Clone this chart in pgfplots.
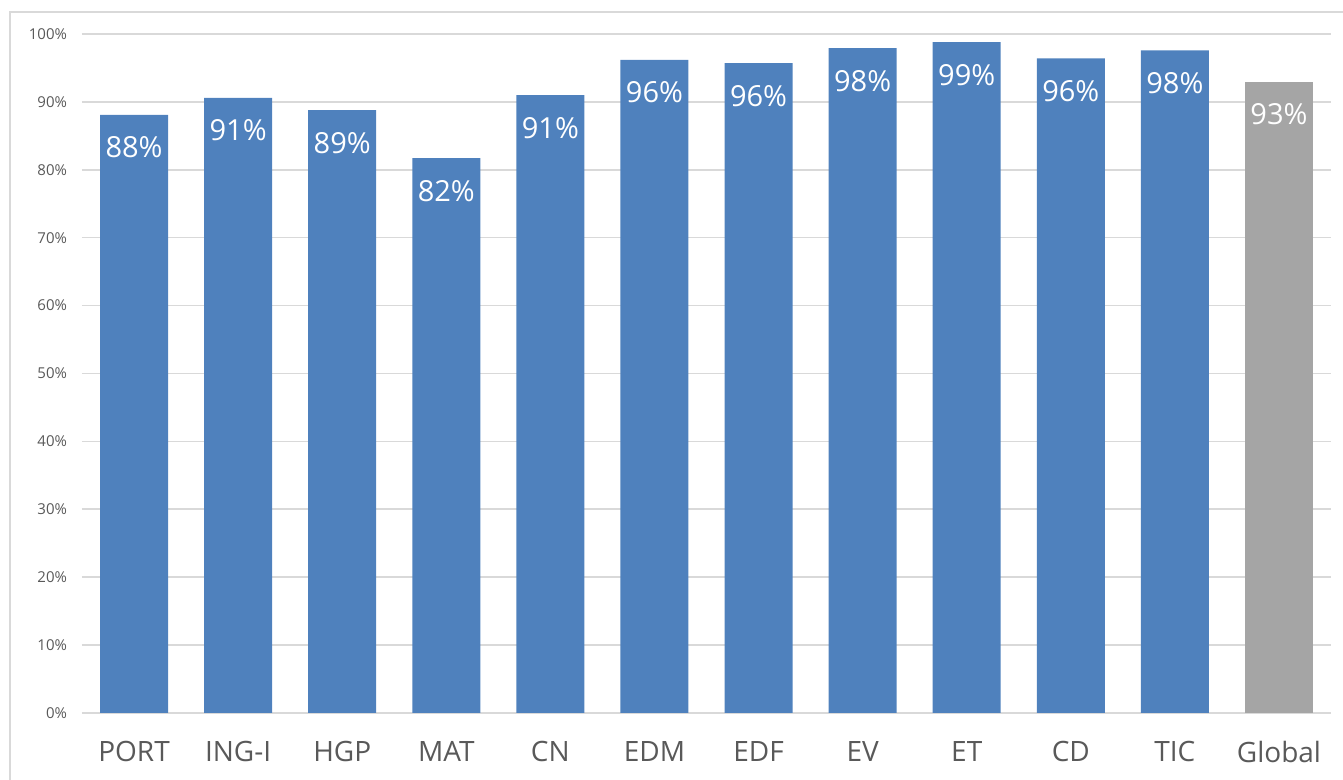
\documentclass[border=0pt]{standalone}
\usepackage{fontspec}
\setmainfont{Open Sans}
\usepackage{pgfplots}
\pgfplotsset{compat=1.18}

\definecolor{barblue}{HTML}{4F81BD}
\definecolor{bargray}{HTML}{A5A5A5}
\definecolor{gridgray}{HTML}{D9D9D9}
\definecolor{txtgray}{HTML}{595959}

\begin{document}
\begin{tikzpicture}
\useasboundingbox (-41pt,-33.5pt) rectangle (630.5pt,356.5pt);
\draw[gridgray, line width=0.8pt] (-36pt,-60pt) rectangle (660pt,350.5pt);
\begin{axis}[
    at={(0,0)}, anchor=south west,
    scale only axis, width=624.5pt, height=339.5pt,
    xmin=-0.5, xmax=11.5, ymin=0, ymax=100,
    xtick={0,...,11},
    xticklabels={PORT,ING-I,HGP,MAT,CN,EDM,EDF,EV,ET,CD,TIC,Global},
    ytick={0,10,...,100},
    yticklabel={\pgfmathprintnumber{\tick}\%},
    /pgf/number format/assume math mode=true,
    axis line style={draw=none},
    x axis line style={draw=gridgray, line width=0.8pt},
    tick style={draw=none},
    ymajorgrids, grid style={gridgray, line width=0.8pt},
    y tick label style={font=\fontsize{7.5}{9}\selectfont, text=txtgray, xshift=-4pt},
    x tick label style={font=\fontsize{14}{16}\selectfont, text=txtgray, yshift=-6.5pt},
    ybar, bar width=34pt, bar shift=0pt,
    nodes near coords={\pgfmathprintnumber[fixed,precision=0]{\pgfplotspointmeta}\%},
    nodes near coords align={anchor=north},
    every node near coord/.append style={font=\fontsize{14.5}{16}\selectfont, text=white, yshift=-7.5pt},
    clip=false,
]
\addplot[fill=barblue, draw=none] coordinates {
(0,88.1) (1,90.6) (2,88.8) (3,81.7) (4,91.0) (5,96.2)
(6,95.7) (7,97.9) (8,98.8) (9,96.4) (10,97.6)};
\addplot[fill=bargray, draw=none] coordinates {(11,93.0)};
\end{axis}
\end{tikzpicture}
\end{document}
